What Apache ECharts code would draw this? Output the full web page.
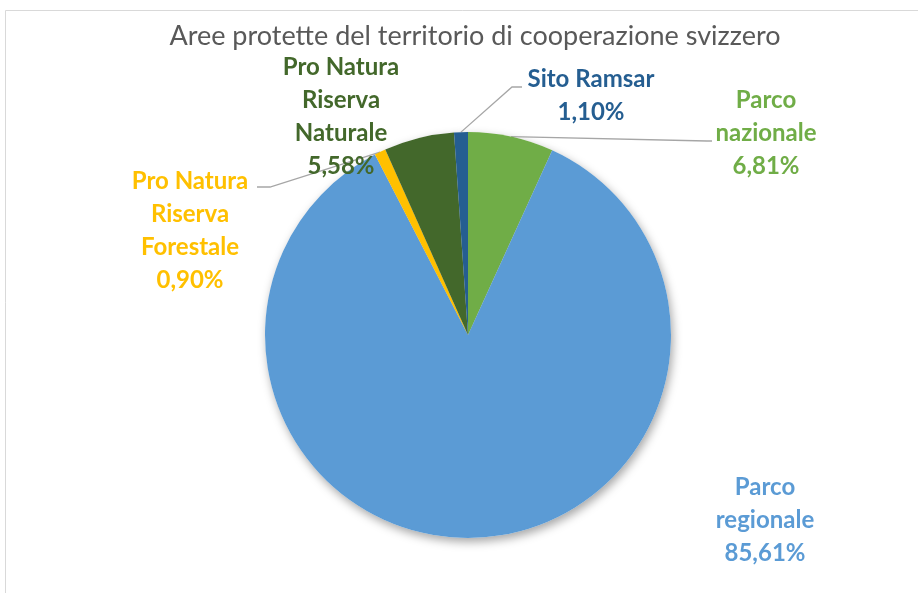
<!DOCTYPE html>
<html>
<head>
<meta charset="utf-8">
<title>Aree protette</title>
<script src="https://cdn.jsdelivr.net/npm/echarts@6/dist/echarts.min.js"></script>
<style>
  html, body { margin: 0; padding: 0; background: #fff; }
  #chart { width: 918px; height: 593px; }
</style>
</head>
<body>
<div id="chart"></div>
<script>
// dati
const categories = ['Parco nazionale', 'Parco regionale', 'Pro Natura Riserva Forestale', 'Pro Natura Riserva Naturale', 'Sito Ramsar'];
const labelNames = ['Parco\nnazionale', 'Parco\nregionale', 'Pro Natura\nRiserva\nForestale', 'Pro Natura\nRiserva\nNaturale', 'Sito Ramsar'];
const percentages = [6.81, 85.61, 0.90, 5.58, 1.10];
const colors = ['#70AD47', '#5B9BD5', '#FFC000', '#43682B', '#255E91'];

// posizione delle etichette (centro) e punti di piega delle linee guida
const labelPos = [[766, 133], [765, 520], [190, 231], [341, 117], [591, 96]];
const leaderBends = [
  [[707, 141], [712, 141]],
  null,
  [[270, 187], [257, 187]],
  null,
  [[512, 87], [522, 87]]
];

const FONT = 'Lato, "Open Sans", sans-serif';

const chart = echarts.init(document.getElementById('chart'));

function fmt(v) {
  return v.toFixed(2).replace('.', ',') + '%';
}

const seriesData = categories.map((name, i) => ({
  name: name,
  value: percentages[i],
  itemStyle: { color: colors[i] },
  label: { color: colors[i] },
  labelLine: { show: leaderBends[i] !== null }
}));

const option = {
  backgroundColor: '#fff',
  animation: false,
  title: {
    text: 'Aree protette del territorio di cooperazione svizzero',
    left: 470,
    top: 18,
    textAlign: 'center',
    textStyle: {
      fontFamily: FONT,
      fontSize: 27,
      fontWeight: 'normal',
      color: '#595959'
    }
  },
  graphic: [{
    type: 'rect',
    silent: true,
    shape: { x: 5.5, y: 10.5, width: 2000, height: 2000 },
    style: { fill: 'none', stroke: '#d9d9d9', lineWidth: 1 }
  }],
  series: [
    // ombra sotto la torta
    {
      type: 'pie',
      silent: true,
      z: 1,
      center: [468, 335],
      radius: 203,
      startAngle: 90,
      data: percentages.map(v => ({ value: v })),
      label: { show: false },
      labelLine: { show: false },
      itemStyle: {
        color: '#fff',
        shadowBlur: 10,
        shadowColor: 'rgba(0,0,0,0.35)',
        shadowOffsetX: 2,
        shadowOffsetY: 4
      }
    },
    {
      type: 'pie',
      z: 2,
      center: [468, 335],
      radius: 203,
      startAngle: 90,
      clockwise: true,
      avoidLabelOverlap: false,
      data: seriesData,
      label: {
        show: true,
        position: 'outside',
        fontFamily: FONT,
        fontSize: 24,
        fontWeight: 'bold',
        lineHeight: 33,
        align: 'center',
        formatter: function(p) {
          return labelNames[p.dataIndex] + '\n' + fmt(p.value);
        }
      },
      labelLine: {
        lineStyle: { color: '#a6a6a6', width: 1.3 }
      },
      labelLayout: function(params) {
        const i = params.dataIndex;
        const res = {
          x: labelPos[i][0],
          y: labelPos[i][1],
          align: 'center',
          verticalAlign: 'middle'
        };
        if (leaderBends[i] && params.labelLinePoints) {
          res.labelLinePoints = [params.labelLinePoints[0]].concat(leaderBends[i]);
        }
        return res;
      }
    }
  ]
};

chart.setOption(option);
</script>
</body>
</html>
